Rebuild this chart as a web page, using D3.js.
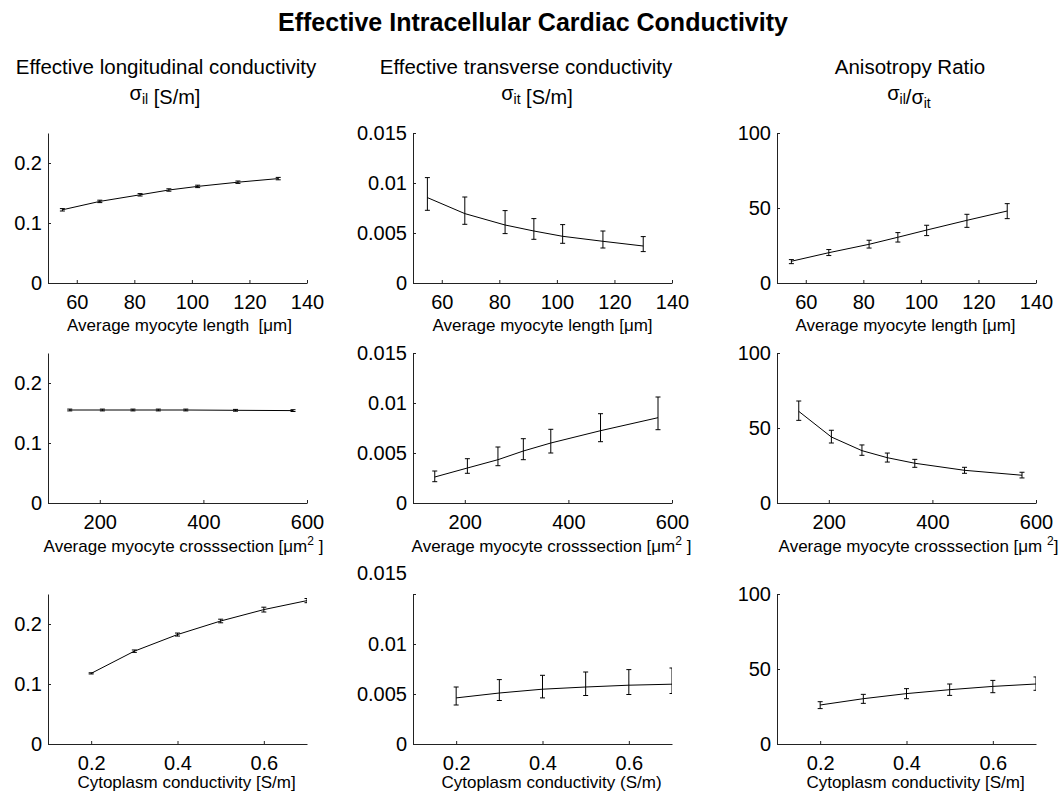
<!DOCTYPE html>
<html>
<head>
<meta charset="utf-8">
<script src="https://cdn.jsdelivr.net/npm/d3@7"></script>
<style>
  body { margin: 0; background: #fff; }
  svg { font-family: "Liberation Sans", Arial, Helvetica, sans-serif; }
  .tick text { font-size: 20px; fill: #000; }
  .xlabel { font-size: 17px; white-space: pre; }
</style>
</head>
<body>
<div id="chart"></div>
<script>
// x values
const lengthX = [55, 68, 82, 92, 102, 116, 130];
const crossX = [142, 205, 264, 313, 366, 462, 573];
const cytoX = [0.2, 0.3, 0.4, 0.5, 0.6, 0.7];

// axis domains and ticks
const lengthDomain = [50, 140], lengthTicks = [60, 80, 100, 120, 140];
const crossDomain = [100, 600], crossTicks = [200, 400, 600];
const cytoDomain = [0.1, 0.7], cytoTicks = [0.2, 0.4, 0.6];
const longDomain = [0, 0.25], longTicks = [0, 0.1, 0.2];
const transDomain = [0, 0.015], transTicks = [0, 0.005, 0.01, 0.015];
const ratioDomain = [0, 100], ratioTicks = [0, 50, 100];

// row 1: myocyte length
const longByLength = [0.122, 0.136, 0.147, 0.155, 0.161, 0.168, 0.174];
const longByLengthLo = [0.120, 0.134, 0.145, 0.153, 0.159, 0.166, 0.172];
const longByLengthHi = [0.124, 0.138, 0.149, 0.157, 0.163, 0.170, 0.176];
const transByLength = [0.00854, 0.00694, 0.0058, 0.0052, 0.00467, 0.00417, 0.0037];
const transByLengthLo = [0.00727, 0.00587, 0.00494, 0.00437, 0.00397, 0.0035, 0.00314];
const transByLengthHi = [0.01054, 0.0086, 0.00724, 0.00644, 0.00584, 0.0052, 0.00464];
const ratioByLength = [14.5, 20.2, 25.8, 30.5, 35.3, 41.8, 48];
const ratioByLengthLo = [12.9, 18.3, 23.3, 27.3, 31.6, 37.1, 42.9];
const ratioByLengthHi = [15.6, 22.3, 28.5, 33.6, 38.5, 45.8, 52.9];

// row 2: myocyte cross-section
const longByCross = [0.155, 0.155, 0.155, 0.155, 0.155, 0.1545, 0.154];
const longByCrossLo = [0.1535, 0.1535, 0.1535, 0.1535, 0.1535, 0.153, 0.1525];
const longByCrossHi = [0.1565, 0.1565, 0.1565, 0.1565, 0.1565, 0.156, 0.1555];
const transByCross = [0.0026, 0.0035, 0.00433, 0.0052, 0.006, 0.00723, 0.00853];
const transByCrossLo = [0.00213, 0.00297, 0.00373, 0.00433, 0.005, 0.00613, 0.00733];
const transByCrossHi = [0.0032, 0.00443, 0.0056, 0.00643, 0.00737, 0.00893, 0.0106];
const ratioByCross = [61.1, 44, 34.9, 30.2, 26.5, 21.8, 18.5];
const ratioByCrossLo = [55.1, 40, 31.8, 27.3, 23.8, 19.8, 16.7];
const ratioByCrossHi = [68, 48.5, 38.7, 33.3, 29.1, 23.8, 20.5];

// row 3: cytoplasm conductivity
const longByCyto = [0.1177, 0.1547, 0.1824, 0.205, 0.224, 0.239];
const longByCytoLo = [0.1167, 0.1527, 0.1799, 0.202, 0.220, 0.2355];
const longByCytoHi = [0.1187, 0.1567, 0.1849, 0.208, 0.228, 0.2425];
const transByCyto = [0.00461, 0.0051, 0.00548, 0.0057, 0.00588, 0.00598];
const transByCytoLo = [0.0039, 0.00435, 0.00461, 0.00485, 0.00495, 0.00505];
const transByCytoHi = [0.0057, 0.00644, 0.00687, 0.0072, 0.00744, 0.0076];
const ratioByCyto = [26, 30.2, 33.6, 36.2, 38.4, 40];
const ratioByCytoLo = [23.6, 27.1, 30.2, 32.4, 34.2, 35.8];
const ratioByCytoHi = [28.2, 33.1, 36.9, 40, 42.4, 44.7];

const chartTitle = "Effective Intracellular Cardiac Conductivity";
const colTitles = ["Effective longitudinal conductivity", "Effective transverse conductivity", "Anisotropy Ratio"];

const width = 1064, height = 793;
const colX = [48, 413, 777], rowY = [133, 353, 594];
const plotW = 259, plotH = 150;

const svg = d3.select("#chart").append("svg")
    .attr("width", width)
    .attr("height", height);

svg.append("text")
    .attr("x", 533).attr("y", 31)
    .attr("text-anchor", "middle")
    .style("font-size", "25px").style("font-weight", "bold")
    .text(chartTitle);

// column headers
const headerX = [166, 526, 910];
const subX = [165, 537, 909];
colTitles.forEach((t, i) => {
    svg.append("text")
        .attr("x", headerX[i]).attr("y", 74)
        .attr("text-anchor", "middle")
        .style("font-size", "20.5px")
        .text(t);
});

function sigma(el, sub) {
    el.append("tspan").text("σ");
    el.append("tspan").attr("dy", 4).style("font-size", "14px").text(sub);
    el.append("tspan").attr("dy", -4).text("");
}
const s0 = svg.append("text").attr("x", subX[0]).attr("y", 100)
    .attr("text-anchor", "middle").style("font-size", "20px");
sigma(s0, "il"); s0.append("tspan").text(" [S/m]");
const s1 = svg.append("text").attr("x", subX[1]).attr("y", 100)
    .attr("text-anchor", "middle").style("font-size", "20px");
sigma(s1, "it"); s1.append("tspan").text(" [S/m]");
const s2 = svg.append("text").attr("x", subX[2]).attr("y", 100)
    .attr("text-anchor", "middle").style("font-size", "20px");
sigma(s2, "il"); s2.append("tspan").text("/");
sigma(s2, "it");

const panels = [
    { r: 0, c: 0, x: lengthX, y: longByLength, lo: longByLengthLo, hi: longByLengthHi, xd: lengthDomain, xt: lengthTicks, yd: longDomain, yt: longTicks },
    { r: 0, c: 1, x: lengthX, y: transByLength, lo: transByLengthLo, hi: transByLengthHi, xd: lengthDomain, xt: lengthTicks, yd: transDomain, yt: transTicks },
    { r: 0, c: 2, x: lengthX, y: ratioByLength, lo: ratioByLengthLo, hi: ratioByLengthHi, xd: lengthDomain, xt: lengthTicks, yd: ratioDomain, yt: ratioTicks },
    { r: 1, c: 0, x: crossX, y: longByCross, lo: longByCrossLo, hi: longByCrossHi, xd: crossDomain, xt: crossTicks, yd: longDomain, yt: longTicks },
    { r: 1, c: 1, x: crossX, y: transByCross, lo: transByCrossLo, hi: transByCrossHi, xd: crossDomain, xt: crossTicks, yd: transDomain, yt: transTicks },
    { r: 1, c: 2, x: crossX, y: ratioByCross, lo: ratioByCrossLo, hi: ratioByCrossHi, xd: crossDomain, xt: crossTicks, yd: ratioDomain, yt: ratioTicks },
    { r: 2, c: 0, x: cytoX, y: longByCyto, lo: longByCytoLo, hi: longByCytoHi, xd: cytoDomain, xt: cytoTicks, yd: longDomain, yt: longTicks },
    { r: 2, c: 1, x: cytoX, y: transByCyto, lo: transByCytoLo, hi: transByCytoHi, xd: cytoDomain, xt: cytoTicks, yd: transDomain, yt: transTicks, topLabelShift: -21 },
    { r: 2, c: 2, x: cytoX, y: ratioByCyto, lo: ratioByCytoLo, hi: ratioByCytoHi, xd: cytoDomain, xt: cytoTicks, yd: ratioDomain, yt: ratioTicks }
];

// x-axis labels: [text before sup, sup, text after]
const xLabels = [
    [["Average myocyte length  [μm]"], ["Average myocyte length [μm]"], ["Average myocyte length [μm]"]],
    [["Average myocyte crosssection [μm", "2", " ]"], ["Average myocyte crosssection [μm", "2", " ]"], ["Average myocyte crosssection [μm ", "2", "]"]],
    [["Cytoplasm conductivity [S/m]"], ["Cytoplasm conductivity (S/m)"], ["Cytoplasm conductivity [S/m]"]]
];
const xLabelY = [331, 552, 788];
const xLabelShift = [[2, 0, -1], [6, 9, 12], [9, 9, 9]];

const fmt = d => d === 0 ? "0" : String(d);

panels.forEach((p, i) => {
    const g = svg.append("g")
        .attr("transform", `translate(${colX[p.c]},${rowY[p.r]})`);

    const x = d3.scaleLinear().domain(p.xd).range([0, plotW]);
    const y = d3.scaleLinear().domain(p.yd).range([plotH, 0]);

    const xAxis = g.append("g")
        .attr("transform", `translate(0,${plotH})`)
        .call(d3.axisBottom(x).tickValues(p.xt).tickFormat(fmt)
            .tickSizeInner(-3).tickSizeOuter(0).tickPadding(12));
    const yAxis = g.append("g")
        .call(d3.axisLeft(y).tickValues(p.yt).tickFormat(fmt)
            .tickSizeInner(-3).tickSizeOuter(0).tickPadding(6));

    [xAxis, yAxis].forEach(a => {
        a.select(".domain").attr("stroke", "#222");
        a.selectAll(".tick line").attr("stroke", "#222");
        a.selectAll(".tick text").style("font-size", "20px").attr("font-family", null);
    });
    xAxis.attr("font-family", null).attr("font-size", null);
    yAxis.attr("font-family", null).attr("font-size", null);

    if (p.topLabelShift) {
        yAxis.selectAll(".tick").filter(d => d === p.yd[1])
            .select("text").attr("y", p.topLabelShift);
    }

    const clipId = "clip" + i;
    g.append("clipPath").attr("id", clipId)
        .append("rect").attr("x", 0).attr("y", -10).attr("width", plotW).attr("height", plotH + 10);

    const marks = g.append("g").attr("clip-path", `url(#${clipId})`);
    const pts = p.x.map((xv, k) => ({ x: xv, y: p.y[k], lo: p.lo[k], hi: p.hi[k] }));

    marks.append("path")
        .datum(pts)
        .attr("fill", "none")
        .attr("stroke", "#000")
        .attr("stroke-width", 1)
        .attr("d", d3.line().x(d => x(d.x)).y(d => y(d.y)));

    const cap = 2.5;
    marks.selectAll(".err")
        .data(pts)
        .join("path")
        .attr("class", "err")
        .attr("fill", "none")
        .attr("stroke", "#000")
        .attr("stroke-width", 1)
        .attr("d", d => {
            const cx = x(d.x), y1 = y(d.hi), y2 = y(d.lo);
            return `M${cx},${y1}V${y2}M${cx - cap},${y1}H${cx + cap}M${cx - cap},${y2}H${cx + cap}`;
        });

    // x label
    const lab = xLabels[p.r][p.c];
    const t = svg.append("text")
        .attr("class", "xlabel")
        .attr("x", colX[p.c] + plotW / 2 + xLabelShift[p.r][p.c])
        .attr("y", xLabelY[p.r])
        .attr("text-anchor", "middle");
    t.append("tspan").text(lab[0]);
    if (lab.length > 1) {
        t.append("tspan").attr("dy", -7).style("font-size", "12px").text(lab[1]);
        t.append("tspan").attr("dy", 7).text(lab[2]);
    }
});
</script>
</body>
</html>
